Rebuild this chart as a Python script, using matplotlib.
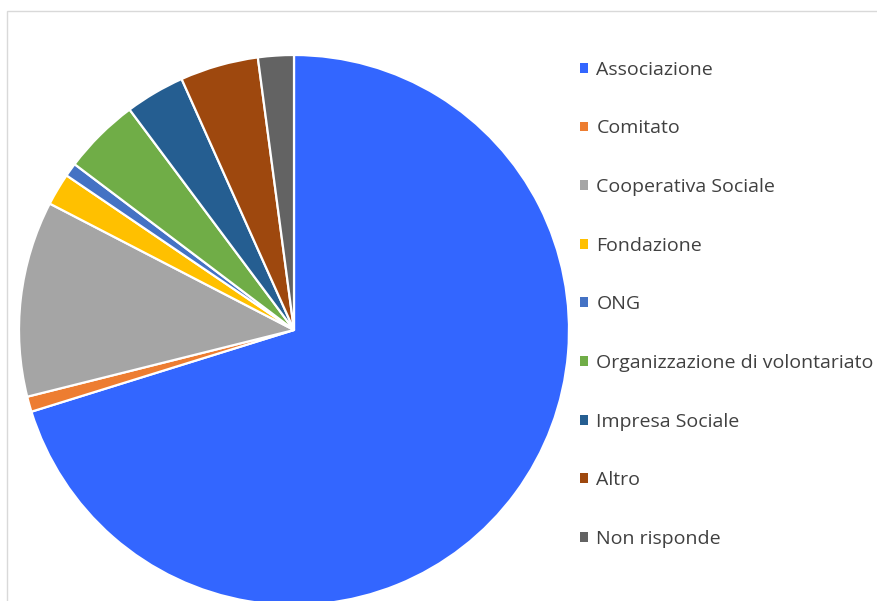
import matplotlib.pyplot as plt
from matplotlib.patches import Rectangle

plt.rcParams['font.family'] = ['Open Sans', 'DejaVu Sans']

# share of respondents by type of organisation (%)
labels = ['Associazione', 'Comitato', 'Cooperativa Sociale', 'Fondazione', 'ONG',
          'Organizzazione di volontariato', 'Impresa Sociale', 'Altro', 'Non risponde']
values = [70.2, 0.9, 11.5, 1.9, 0.8, 4.5, 3.5, 4.6, 2.1]
colors = ['#3366FF', '#ED7D31', '#A5A5A5', '#FFC000', '#4472C4',
          '#70AD47', '#255E91', '#9E480E', '#636363']

fig = plt.figure(figsize=(8.78, 6.01), dpi=100)

# light frame of the chart area
fig.patches.append(Rectangle((7 / 878, -0.05), 1.2, 1 - 11 / 601 + 0.05,
                             transform=fig.transFigure, fill=False,
                             edgecolor='#D9D9D9', linewidth=1))

ax = fig.add_axes([19 / 878, -4 / 601, 550 / 878, 550 / 601])
wedges, _ = ax.pie(values, colors=colors, startangle=90, counterclock=False,
                   radius=1, wedgeprops=dict(edgecolor='white', linewidth=1.6))
ax.set_xlim(-1, 1)
ax.set_ylim(-1, 1)
ax.set_aspect('equal')

leg = fig.legend(wedges, labels, loc='upper left',
                 bbox_to_anchor=(572 / 878, 1 - 53 / 601),
                 frameon=False, fontsize=14, labelspacing=2.09,
                 handlelength=0.4, handleheight=0.4, handletextpad=0.45,
                 borderaxespad=0)
for t in leg.get_texts():
    t.set_color('#404040')
for h in leg.legend_handles:
    h.set_edgecolor('none')

fig.savefig('out.png', dpi=100)
